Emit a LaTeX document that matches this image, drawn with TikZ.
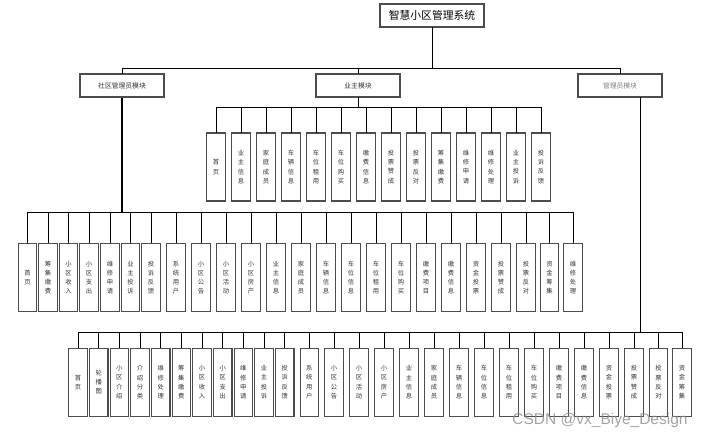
\documentclass[tikz,border=0pt]{standalone}
\usepackage{fontspec}
\setmainfont{Noto Sans CJK SC}
\newfontfamily\wmfont{Liberation Sans}
\begin{document}
\begin{tikzpicture}[x=1pt,y=-1pt,
  box/.style={draw=black!70, line width=1.1pt, fill=white, inner sep=0pt},
  topbox/.style={box, minimum width=104pt, minimum height=23pt, font=\fontsize{10.8}{12}\selectfont},
  modbox/.style={box, minimum width=84pt, minimum height=23pt, font=\fontsize{6.8}{8}\selectfont, text=black!80},
  leaf/.style={box, minimum width=18.5pt, minimum height=68pt, align=center, font=\fontsize{6.3}{9.2}\selectfont, text=black!80},
  conn/.style={line width=1pt, black, line cap=rect},
  thick conn/.style={line width=1.8pt, black}]
\useasboundingbox (0,0) rectangle (719,440);

% levels
\coordinate (main) at (0,68);
\coordinate (busA) at (0,107);
\coordinate (busB) at (0,212.3);
\coordinate (busC) at (0,332.7);

\node[topbox] (top) at (432,15.5) {智慧小区管理系统};
\node[modbox] (ma) at (122,85.5) {社区管理员模块};
\node[modbox] (mb) at (358,85.5) {业主模块};
\node[modbox, text=black!50] (mc) at (620,85.5) {管理员模块};

% row A: 业主模块
\foreach \x/\t [count=\i] in {
  216/{首\\页}, 241/{业\\主\\信\\息}, 266/{家\\庭\\成\\员}, 291/{车\\辆\\信\\息},
  316/{车\\位\\租\\用}, 341/{车\\位\\购\\买}, 366/{缴\\费\\信\\息}, 391/{投\\票\\赞\\成},
  416/{投\\票\\反\\对}, 441/{筹\\集\\缴\\费}, 466/{维\\修\\申\\请}, 491/{维\\修\\处\\理},
  516/{业\\主\\投\\诉}, 541/{投\\诉\\反\\馈}}
  \node[leaf] (a\i) at (\x,167) {\t};

% row B: 社区管理员模块
\foreach \x/\t [count=\i] in {
  27.5/{首\\页}, 48/{筹\\集\\缴\\费}, 68.5/{小\\区\\收\\入}, 89/{小\\区\\支\\出},
  110/{维\\修\\申\\请}, 130.5/{业\\主\\投\\诉}, 151/{投\\诉\\反\\馈}, 176/{系\\统\\用\\户},
  201/{小\\区\\公\\告}, 226/{小\\区\\活\\动}, 251/{小\\区\\房\\产}, 276/{业\\主\\信\\息},
  301/{家\\庭\\成\\员}, 326/{车\\辆\\信\\息}, 351/{车\\位\\信\\息}, 376/{车\\位\\租\\用},
  401/{车\\位\\购\\买}, 426/{缴\\费\\项\\目}, 451/{缴\\费\\信\\息}, 476/{资\\金\\投\\票},
  501/{投\\票\\赞\\成}, 526/{投\\票\\反\\对}, 549.5/{资\\金\\筹\\集}, 573/{维\\修\\处\\理}}
  \node[leaf] (b\i) at (\x,277.5) {\t};

% row C: 管理员模块
\foreach \x/\t [count=\i] in {
  78/{首\\页}, 98.7/{轮\\播\\图}, 119.3/{小\\区\\介\\绍}, 140/{介\\绍\\分\\类},
  160.7/{维\\修\\处\\理}, 181.3/{筹\\集\\缴\\费}, 202/{小\\区\\收\\入}, 222.7/{小\\区\\支\\出},
  243.3/{维\\修\\申\\请}, 264/{业\\主\\投\\诉}, 284.7/{投\\诉\\反\\馈}, 309.3/{系\\统\\用\\户},
  334/{小\\区\\公\\告}, 359/{小\\区\\活\\动}, 384/{小\\区\\房\\产}, 409/{业\\主\\信\\息},
  434/{家\\庭\\成\\员}, 459/{车\\辆\\信\\息}, 484/{车\\位\\信\\息}, 509/{车\\位\\租\\用},
  534/{车\\位\\购\\买}, 559/{缴\\费\\项\\目}, 584/{缴\\费\\信\\息}, 609/{资\\金\\投\\票},
  634/{投\\票\\赞\\成}, 658.5/{投\\票\\反\\对}, 682/{资\\金\\筹\\集}}
  \node[leaf] (c\i) at (\x,382.2) {\t};

% connectors: top level
\draw[conn] (top.south) -- (top.south |- main);
\draw[conn] (ma.north |- main) -- (mc.north |- main);
\foreach \m in {ma,mb,mc} \draw[conn] (\m.north) -- (\m.north |- main);

% 业主模块
\draw[conn] (mb.south) -- (mb.south |- busA);
\draw[conn] (a1.north |- busA) -- (a14.north |- busA);
\foreach \i in {1,...,14} \draw[conn] (a\i.north) -- (a\i.north |- busA);

% 社区管理员模块
\draw[thick conn] (ma.south) -- (ma.south |- busB);
\draw[conn] (b1.north |- busB) -- (b24.north |- busB);
\foreach \i in {1,...,24} \draw[conn] (b\i.north) -- (b\i.north |- busB);

% 管理员模块
\coordinate (mcdrop) at ([xshift=20.7pt]mc.south);
\draw[conn] (mcdrop) -- (mcdrop |- busC);
\draw[conn] (c1.north |- busC) -- (c27.north |- busC);
\foreach \i in {1,...,27} \draw[conn] (c\i.north) -- (c\i.north |- busC);

% watermark
\node[font=\wmfont\fontsize{15.5}{17}\selectfont, text=black!45, text opacity=0.8, inner sep=0pt] (wm) at (600,420) {CSDN @vx\_Biye\_Design};
\end{tikzpicture}
\end{document}
